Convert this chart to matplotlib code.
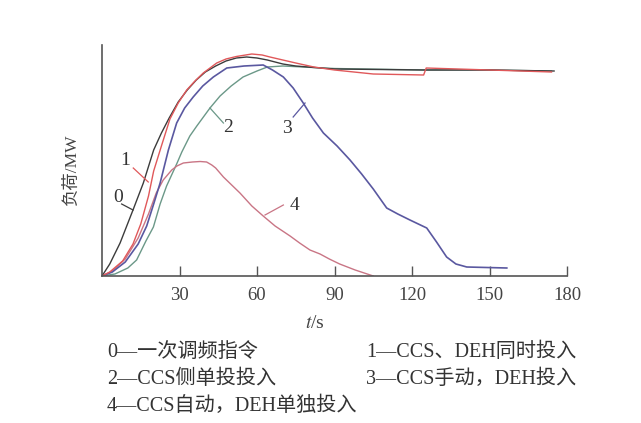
# primary frequency regulation load response, 5 curves
import matplotlib
matplotlib.use('Agg')
import matplotlib.pyplot as plt

plt.rcParams['font.family'] = ['Liberation Serif', 'Noto Sans CJK SC']
plt.rcParams['mathtext.fontset'] = 'stix'

# curve 0 - command
t0 = [0, 3, 7, 12, 16, 20, 23, 26, 29.5, 33, 36.5, 40, 44, 48, 52, 56, 60, 64, 70, 75,
      82, 90, 125, 150, 175]
p0 = [0, 12, 33, 66, 93, 126, 143, 158, 174, 186, 196, 204, 210, 215, 218, 219, 218,
      216, 212, 210, 208.5, 207, 206, 206, 205]

# curve 1 - CCS + DEH
t1 = [0, 3, 8, 12, 15, 18, 20, 23, 26.3, 29.5, 32.8, 36, 39.2, 44.4, 48, 52, 58, 62,
      65, 70, 75, 82, 90, 105, 124.5, 125.5, 150, 174]
p1 = [0, 4, 15, 32, 52, 80, 105, 130, 157, 173, 186, 195, 203, 213, 217, 219.5, 222,
      221, 219, 216, 213, 209, 206, 202, 201, 208, 206, 204]

# curve 2 - CCS side only
t2 = [0, 5, 10, 13.4, 17, 19.9, 22.5, 25, 28.9, 30.9, 34, 36.7, 41.8, 45.7, 50, 54.6,
      60, 64, 70, 90, 125, 150, 174]
p2 = [0, 2, 8, 16, 35, 49, 72, 90, 112, 124, 140, 150, 168, 180, 190, 199,
      205, 209, 210, 207.5, 206, 206, 205]

# curve 3 - CCS manual, DEH on
t3 = [0, 4, 9, 14, 17.3, 20, 22.5, 25.7, 28.9, 32, 35.3, 39, 43.1, 48.3, 55, 62.4, 66,
      70.2, 74, 77.9, 81.5, 85.7, 91, 96, 100.5, 105, 110.2, 114.5, 119.2, 125.7, 129.5,
      133.4, 137, 141.2, 156.7]
p3 = [0, 4, 14, 32, 50, 72, 93, 126, 153, 168, 179, 190, 199, 208, 210, 211, 206,
      199, 188, 173, 158, 143, 130, 116, 102, 87, 68, 62, 56, 48, 34,
      19, 12, 9, 8]

# curve 4 - CCS auto, DEH alone
t4 = [0, 4, 9, 14, 18, 21, 23.7, 27, 29, 31.5, 35, 38, 40.5, 42.5, 44, 47, 53.4, 58,
      62.4, 67, 72.8, 76.5, 80.5, 84.4, 88, 92, 98, 105]
p4 = [0, 5, 17, 38, 62, 83, 96, 106, 110, 113, 114, 114.5, 114, 111, 108, 99, 83, 70,
      60, 50, 40, 33, 26, 22, 17, 12, 6, 0]

xticks = [30, 60, 90, 120, 150, 180]

legend_left = ['0—一次调频指令', '2—CCS侧单投投入', '4—CCS自动，DEH单独投入']
legend_right = ['1—CCS、DEH同时投入', '3—CCS手动，DEH投入']

c0 = '#3c3c3c'
c1 = '#e0585a'
c2 = '#6b9888'
c3 = '#5a58a0'
c4 = '#c97585'
axcol = '#555555'
txtcol = '#333333'

fig = plt.figure(figsize=(6.41, 4.23), dpi=100)
ax = fig.add_axes([102/641, 1-276/423, (567-102)/641, (276-45)/423])

ax.plot(t2, p2, color=c2, lw=1.0)
ax.plot(t4, p4, color=c4, lw=1.0)
ax.plot(t3, p3, color=c3, lw=1.2)
ax.plot(t0, p0, color=c0, lw=1.0)
ax.plot(t1, p1, color=c1, lw=1.0)

# curve labels with leader lines
labels = [('0', 6.2, 79, (7.6, 72), (12, 66), c0),
          ('1', 8.9, 116, (12.1, 108), (17.9, 94), c1),
          ('2', 48.9, 149, (47, 153), (41.8, 168), c2),
          ('3', 71.5, 148, (74, 159), (78.6, 173), c3),
          ('4', 74.5, 71, (70.2, 71), (63.1, 61), c4)]
for s, x, y, a, b, c in labels:
    ax.plot([a[0], b[0]], [a[1], b[1]], color=c, lw=0.9)
    ax.text(x, y, s, fontsize=14, color=txtcol, ha='center', va='center')

ax.set_xlim(0, 180)
ax.set_ylim(0, 231)
ax.spines['top'].set_visible(False)
ax.spines['right'].set_visible(False)
for sp in ['left', 'bottom']:
    ax.spines[sp].set_color(axcol)
    ax.spines[sp].set_linewidth(1.2)
ax.set_xticks(xticks)
ax.set_xticklabels([str(v) for v in xticks])
ax.set_yticks([])
ax.tick_params(axis='x', direction='in', length=7, width=1.0, color=axcol,
               labelsize=13.5, labelcolor='#444444', pad=8)

fig.text(315/641, 1-323/423, r'$t$/s', fontsize=14, color='#444444',
         ha='center', va='center')
fig.text(72/641, 1-170/423, '负荷/MW', fontsize=12.5, color='#444444',
         rotation=90, ha='center', va='center')

for i, s in enumerate(legend_left):
    fig.text(107/641, 1-(352+i*27)/423, s, fontsize=14.5, color=txtcol,
             ha='left', va='center')
for i, s in enumerate(legend_right):
    fig.text(366/641, 1-(352+i*27)/423, s, fontsize=14.5, color=txtcol,
             ha='left', va='center')

plt.savefig('out.png', dpi=100)
